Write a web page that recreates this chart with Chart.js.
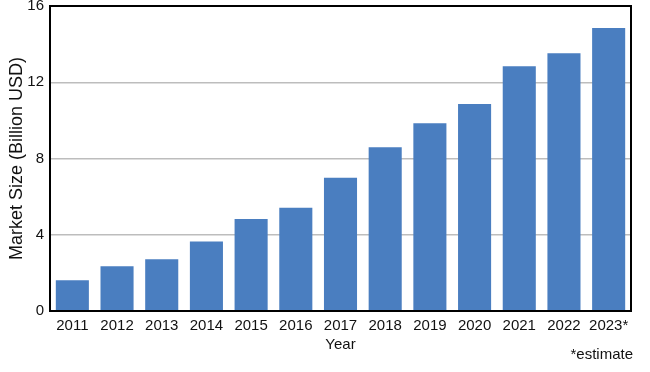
<!DOCTYPE html>
<html>
<head>
<meta charset="utf-8">
<script src="https://cdn.jsdelivr.net/npm/chart.js@4"></script>
<style>
  html, body { margin: 0; padding: 0; background: #fff; }
  #wrap { width: 650px; height: 372px; }
</style>
</head>
<body>
<div id="wrap"><canvas id="marketChart"></canvas></div>
<script>
// years on the x axis (last one is an estimate)
const years = ['2011', '2012', '2013', '2014', '2015', '2016', '2017', '2018', '2019', '2020', '2021', '2022', '2023*'];
// market size, billion USD
const marketSize = [1.61, 2.35, 2.71, 3.64, 4.83, 5.42, 6.99, 8.59, 9.85, 10.86, 12.84, 13.52, 14.85];
const yTicks = [0, 4, 8, 12, 16];

Chart.defaults.font.family = '"Liberation Sans", Arial, Helvetica, sans-serif';
Chart.defaults.color = '#111';

// frame around the plot plus the footnote
const framePlugin = {
    id: 'frame',
    afterDatasetsDraw(chart) {
        const a = chart.chartArea;
        const ctx = chart.ctx;
        ctx.save();
        ctx.strokeStyle = '#000';
        ctx.lineWidth = 2;
        ctx.strokeRect(a.left, a.top, a.right - a.left, a.bottom - a.top);
        ctx.restore();
    },
    afterDraw(chart) {
        const ctx = chart.ctx;
        ctx.save();
        ctx.font = '15px "Liberation Sans", Arial, sans-serif';
        ctx.fillStyle = '#111';
        ctx.textAlign = 'right';
        ctx.textBaseline = 'middle';
        ctx.fillText('*estimate', chart.chartArea.right + 2, 355);
        ctx.restore();
    }
};

new Chart(document.getElementById('marketChart'), {
    type: 'bar',
    data: {
        labels: years,
        datasets: [{
            label: 'Market Size',
            data: marketSize,
            backgroundColor: '#4a7ec0',
            borderWidth: 0,
            barPercentage: 0.74,
            categoryPercentage: 1.0
        }]
    },
    options: {
        responsive: true,
        maintainAspectRatio: false,
        animation: false,
        layout: { padding: { top: 6, right: 19, bottom: 0, left: 0 } },
        plugins: {
            legend: { display: false },
            tooltip: { enabled: false }
        },
        scales: {
            x: {
                grid: { display: false, drawTicks: false },
                border: { display: false },
                ticks: { padding: 6, font: { size: 15 }, maxRotation: 0, autoSkip: false },
                title: { display: true, text: 'Year', font: { size: 15 }, padding: { top: 0, bottom: 18 } },
                afterFit(scale) { scale.height = 61; }
            },
            y: {
                min: 0,
                max: 16,
                afterBuildTicks(scale) { scale.ticks = yTicks.map(v => ({ value: v })); },
                grid: {
                    drawTicks: false,
                    color: ctx => (ctx.tick && (ctx.tick.value === 0 || ctx.tick.value === 16)) ? 'rgba(0,0,0,0)' : '#bdbdbd',
                    lineWidth: 1.5
                },
                border: { display: false },
                ticks: { padding: 6, font: { size: 15 } },
                title: { display: true, text: 'Market Size (Billion USD)', font: { size: 18 }, padding: { top: 6, bottom: 0 } },
                afterFit(scale) {
                    scale.width = 50;
                    scale.paddingTop = 0;
                    scale.paddingBottom = 0;
                }
            }
        }
    },
    plugins: [framePlugin]
});
</script>
</body>
</html>
